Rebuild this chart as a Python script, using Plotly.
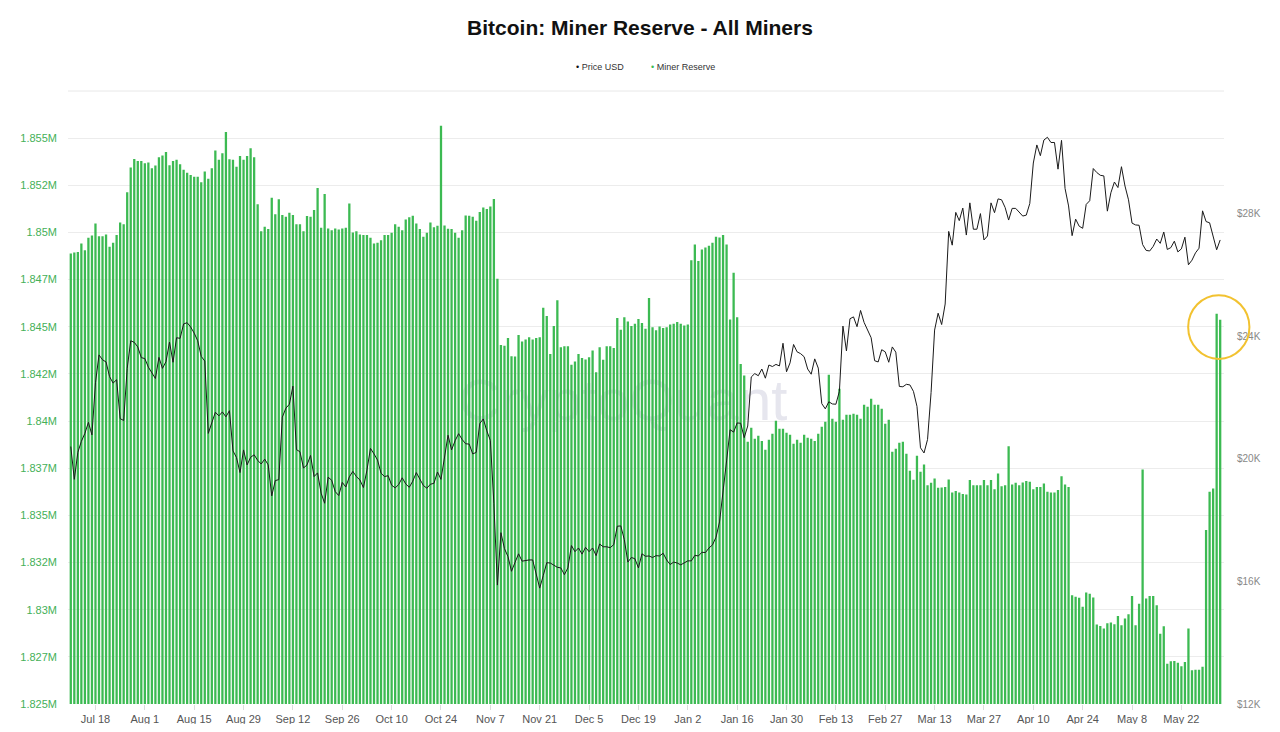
import pandas as pd
import plotly.graph_objects as go

# Ежедневные данные: 2022-07-11 ... 2023-06-02
start_date = "2022-07-11"
end_date = "2023-06-02"

# Резерв майнеров (BTC)
miner_reserve = [
    1848880, 1848940, 1848970, 1849420, 1849060, 1849720, 1849840, 1850480, 1849800, 1849800,
    1849890, 1849240, 1849450, 1849860, 1850530, 1850430, 1852130, 1853440, 1853900, 1853790,
    1853790, 1853670, 1853710, 1853400, 1853550, 1853990, 1854080, 1854260, 1853560, 1853790,
    1853850, 1853620, 1853320, 1853170, 1853050, 1852960, 1852960, 1852660, 1853230, 1852850,
    1853400, 1854340, 1853850, 1854200, 1855320, 1853880, 1853850, 1853490, 1854060, 1853850,
    1854060, 1854470, 1853990, 1851490, 1850070, 1850300, 1850180, 1851840, 1850960, 1851760,
    1850920, 1850830, 1851050, 1850920, 1850430, 1850430, 1850070, 1850870, 1850830, 1851190,
    1852360, 1850250, 1852040, 1850210, 1850120, 1850210, 1850160, 1850210, 1850250, 1851540,
    1850000, 1850070, 1849890, 1849860, 1849860, 1849720, 1849420, 1849450, 1849590, 1849860,
    1849860, 1849980, 1850430, 1850300,
    1850120, 1850690, 1850800, 1850890, 1850480, 1850180, 1849770, 1849980, 1850530, 1850270,
    1850350, 1855660, 1850370, 1850200, 1850180, 1849980, 1849720, 1850120, 1850900, 1850890,
    1850830, 1850620, 1851080, 1851330, 1851240, 1851370, 1851770, 1847550,
    1844040, 1843990, 1844400, 1843440, 1843420, 1844570, 1844220, 1844330, 1844450, 1844330,
    1844400, 1844450,
    1846010, 1845570, 1843560, 1845040, 1846400, 1843920, 1843970, 1843970, 1842980, 1843160,
    1843560, 1843350, 1843260, 1843390, 1843740, 1842590, 1843920, 1843250, 1843970, 1843970,
    1843870, 1845460, 1844840, 1845500, 1845280, 1845040, 1845160, 1845410, 1845200, 1844890,
    1846530, 1844980, 1844810, 1845020, 1844930, 1844980, 1845120, 1845160, 1845250, 1845160,
    1845070, 1845120, 1848530, 1849360, 1848490, 1849100, 1849200, 1849290, 1849450, 1849770,
    1849730, 1849860, 1849360, 1845390, 1847870, 1845500, 1843030, 1842410,
    1838900, 1839640, 1839060, 1839220, 1838950, 1838480, 1839010, 1839330, 1840020, 1839590,
    1839590, 1839380, 1839270, 1838800, 1839010, 1838850, 1839270, 1839110, 1839060, 1838950,
    1839330, 1839700, 1839960, 1842460, 1840120, 1839960, 1841710, 1840070, 1840330, 1840330,
    1840390, 1840330, 1840120, 1840860, 1840760, 1841180, 1840860, 1840860, 1840650, 1839860,
    1840070, 1838370, 1838530, 1838850, 1838900, 1838270, 1837360, 1836890, 1838160,
    1837310, 1837700, 1836600, 1836730, 1836960, 1836460, 1836480, 1836510, 1836900, 1836210,
    1836290, 1836210, 1836130, 1836110, 1836870, 1836600, 1836600, 1836600, 1836870, 1836600,
    1836870, 1836390, 1837220, 1836550, 1836600, 1838670, 1836640, 1836730, 1836600, 1836740,
    1836820, 1836780, 1836390, 1836510, 1836510, 1836690, 1836250, 1836210, 1836210, 1836340,
    1837080, 1836640, 1836510, 1830770, 1830680, 1830630, 1830150, 1830910, 1830850, 1830640,
    1829210, 1829140, 1829000, 1829280, 1829320, 1829230, 1829670, 1829180, 1829530, 1829760,
    1830720, 1829180, 1830320, 1837430, 1830590, 1830720, 1830720, 1830240, 1828730, 1829120,
    1827140, 1827270, 1827280, 1827190, 1827000, 1827230, 1829000, 1826790, 1826820, 1826820,
    1826970, 1834220, 1836250, 1836430, 1845690, 1845370,
]

# Цена BTC в долларах
price_usd = [
    # июль
    20400, 19330, 20210, 20570, 20830, 21190, 20780, 22480, 23390, 23230, 23160, 22680, 22470,
    22580, 21310, 21250, 22950, 23850, 23800, 23650, 23300,
    # август
    23270, 22990, 22820, 22620, 23310, 22950, 23170, 23810, 23150, 23950, 23930, 24400, 24440,
    24300, 24100, 23850, 23340, 23190, 20830, 21140, 21520, 21400, 21530, 21370, 21570, 20260,
    20040, 19550, 20290, 19800, 20050,
    # сентябрь
    20130, 19950, 19830, 19990, 19800, 18790, 19290, 19320, 21360, 21650, 21780, 22370, 20300,
    20230, 19700, 19800, 20110, 19420, 19540, 18880, 18550, 19400, 19300, 18930, 18800, 19230,
    19080, 19410, 19590, 19420,
    # октябрь
    19310, 19060, 19630, 20340, 20160, 19960, 19530, 19420, 19450, 19140, 19050, 19160, 19380,
    19180, 19070, 19270, 19550, 19330, 19130, 19040, 19170, 19200, 19570, 19330, 20090, 20770,
    20290, 20590, 20820, 20630, 20490,
    # ноябрь
    20480, 20160, 20210, 21150, 21300, 20910, 20600, 18540, 15880, 17590, 17070, 16810, 16330,
    16620, 16900, 16660, 16690, 16700, 16700, 16280, 15780, 16190, 16610, 16600, 16520, 16460,
    16440, 16220, 16440, 17170,
    # декабрь
    16970, 17090, 16890, 17110, 16970, 17090, 16840, 17220, 17130, 17130, 17100, 17200, 17800,
    17810, 17360, 16630, 16780, 16740, 16440, 16900, 16820, 16830, 16780, 16840, 16830, 16920,
    16700, 16550, 16630, 16600, 16540,
    # январь
    16620, 16670, 16670, 16850, 16830, 16950, 16940, 17090, 17190, 17440, 17940, 18850, 19930,
    20950, 20870, 21170, 21160, 20690, 21070, 22670, 22780, 22710, 22930, 22630, 23060, 23010,
    23080, 23030, 23770, 22840, 23130,
    # февраль
    23730, 23490, 23430, 23330, 22930, 22760, 23260, 22960, 21800, 21630, 21860, 21790, 21780,
    22200, 24330, 23520, 24570, 24630, 24310, 24840, 24450, 24190, 23950, 23200, 23160, 23560,
    23490, 23150,
    # март
    23650, 23480, 22360, 22350, 22430, 22410, 22200, 21710, 20360, 20190, 20630, 22160, 24200,
    24750, 24380, 25050, 27420, 26970, 28040, 27770, 28180, 27300, 28350, 27490, 27490, 28000,
    27140, 27270, 28350, 28030, 28480,
    # апрель
    28450, 28200, 27790, 28170, 28170, 28030, 27920, 27950, 28330, 29650, 30240, 29890, 30400,
    30490, 30320, 30320, 29450, 30390, 28820, 28250, 27280, 27820, 27590, 27520, 28300, 28420,
    29470, 29340, 29250, 29230,
    # май
    28080, 28680, 29030, 28850, 29530, 28900, 28450, 27690, 27630, 27620, 26990, 26800, 26780,
    26930, 27170, 27030, 27400, 26830, 26890, 27100, 26750, 26850, 27230, 26330, 26480, 26720,
    26870, 28090, 27740, 27700, 27220,
    # июнь
    26820, 27140,
]

# Подписи осей
reserve_ticks = [1825000, 1827500, 1830000, 1832500, 1835000, 1837500, 1840000,
                 1842500, 1845000, 1847500, 1850000, 1852500, 1855000]
reserve_tick_text = ["1.825M", "1.827M", "1.83M", "1.832M", "1.835M", "1.837M", "1.84M",
                     "1.842M", "1.845M", "1.847M", "1.85M", "1.852M", "1.855M"]
price_ticks = [12000, 16000, 20000, 24000, 28000]
price_tick_text = ["$12K", "$16K", "$20K", "$24K", "$28K"]

GREEN = "#3cba52"
FONT = "Liberation Sans, Arial, sans-serif"

dates = pd.date_range(start=start_date, end=end_date, freq="D")
df = pd.DataFrame({"date": dates, "reserve": miner_reserve, "price": price_usd})

fig = go.Figure()

fig.add_bar(x=df["date"], y=df["reserve"], name="Miner Reserve",
            marker=dict(color=GREEN, line=dict(width=0)),
            yaxis="y", showlegend=False)
fig.add_scatter(x=df["date"], y=df["price"], name="Price USD", mode="lines",
                line=dict(color="#1a1a1a", width=1), yaxis="y2", showlegend=False)

# страница добавляет отступ 8px, поэтому фигура чуть меньше окна
fig.update_layout(
    width=1264, height=716,
    template="plotly_white",
    paper_bgcolor="white", plot_bgcolor="white",
    font=dict(family=FONT, color="#555555", size=11),
    title=dict(text="<b>Bitcoin: Miner Reserve - All Miners</b>",
               font=dict(size=21, color="#111111", family=FONT),
               x=0.5, xanchor="center", y=0.972, yanchor="middle"),
    margin=dict(l=60, r=48, t=83, b=20),
    bargap=0.35,
    showlegend=False,
    xaxis=dict(
        type="date",
        range=["2022-07-10 05:00", "2023-06-03 02:00"],
        tick0="2022-07-18", dtick=14 * 24 * 3600 * 1000,
        tickformat="%b %-d",
        showgrid=False, zeroline=False,
        ticks="outside", ticklen=5, tickcolor="#dddddd",
        tickfont=dict(size=11, color="#555555"),
        showline=False, automargin=False,
    ),
    yaxis=dict(
        range=[1825000, 1857500],
        tickvals=reserve_ticks, ticktext=reserve_tick_text,
        tickfont=dict(size=11, color="#45b058"),
        showgrid=True, gridcolor="#ececec", gridwidth=1,
        zeroline=False, ticks="", ticklabelstandoff=10, automargin=False,
    ),
    yaxis2=dict(
        overlaying="y", side="right",
        range=[12000, 32000],
        tickvals=price_ticks, ticktext=price_tick_text,
        tickfont=dict(size=10, color="#888888"),
        showgrid=False, zeroline=False, ticklabelstandoff=12, automargin=False,
    ),
)

# легенда: маленькие точки вплотную к тексту
legend_items = [("Price USD", "#111111", 0.4377), ("Miner Reserve", GREEN, 0.5026)]
for label, color, xpos in legend_items:
    fig.add_annotation(text=f"<span style='color:{color}'>•</span> {label}",
                       xref="paper", yref="paper", x=xpos, y=1.039,
                       xanchor="left", yanchor="middle", showarrow=False,
                       font=dict(size=9, color="#333333", family=FONT))

# верхняя линия рамки
fig.add_shape(type="line", xref="paper", yref="paper", x0=0, x1=1, y0=1, y1=1,
              line=dict(color="#e8e8e8", width=1))

# водяной знак под столбцами
fig.add_shape(type="rect", xref="paper", yref="paper", x0=0.33, x1=0.63, y0=0.45, y1=0.56,
              layer="below", line=dict(width=0), fillcolor="rgba(0,0,0,0)",
              label=dict(text="CryptoQuant", textposition="middle center",
                         font=dict(size=58, color="#e6e6ee", family=FONT)))

# жёлтый круг вокруг последних столбцов
fig.add_shape(type="circle", xref="paper", yref="paper",
              x0=0.969, x1=1.022, y0=0.563, y1=0.667,
              line=dict(color="#f2c230", width=2))

fig.write_html("out.html")
